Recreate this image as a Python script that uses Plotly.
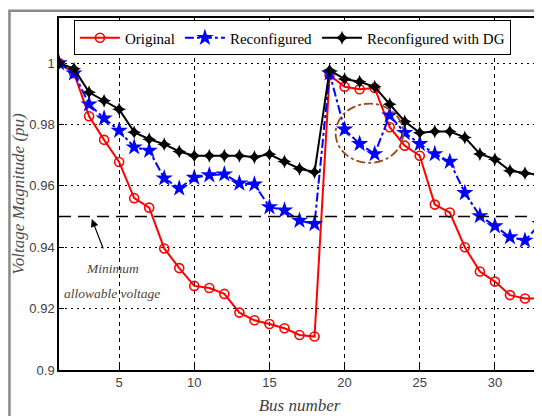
import plotly.graph_objects as go

bus = list(range(1, 34))

original = [1.0, 0.9967, 0.9827, 0.975, 0.9678, 0.956, 0.9529, 0.9396, 0.9332, 0.9274,
            0.9267, 0.9248, 0.9187, 0.9162, 0.915, 0.9136, 0.9114, 0.9109,
            0.9961, 0.9923, 0.9915, 0.9919, 0.9791, 0.9731, 0.9698,
            0.9539, 0.9513, 0.94, 0.9321, 0.9288, 0.9244, 0.9233, 0.9233]

reconfigured = [1.0, 0.9967, 0.9866, 0.982, 0.978, 0.9726, 0.9715, 0.9625, 0.9592, 0.9627,
                0.9635, 0.9638, 0.9608, 0.9605, 0.9531, 0.952, 0.9487, 0.9476,
                0.9967, 0.9784, 0.9737, 0.9704, 0.983, 0.9773, 0.9737,
                0.9704, 0.9679, 0.9577, 0.9502, 0.9469, 0.9433, 0.9422, 0.9476]

reconfigured_dg = [1.0, 0.9982, 0.9905, 0.9877, 0.985, 0.9775, 0.9752, 0.9736, 0.9712, 0.9698,
                   0.9698, 0.9698, 0.9698, 0.9694, 0.9703, 0.9679, 0.9656, 0.9645,
                   0.9977, 0.9948, 0.9939, 0.9923, 0.9866, 0.981, 0.9773,
                   0.9777, 0.9777, 0.9758, 0.9704, 0.9687, 0.9649, 0.9641, 0.9635]

min_voltage = 0.95
x_ticks = [5, 10, 15, 20, 25, 30]
y_ticks = [0.9, 0.92, 0.94, 0.96, 0.98, 1.0]
y_tick_labels = ["0.9", "0.92", "0.94", "0.96", "0.98", "1"]
ellipse_x = [19.4, 23.9]
ellipse_y = [0.9675, 0.9868]

SERIF = "Liberation Serif"
SANS = "Liberation Sans"

fig = go.Figure()
fig.add_trace(go.Scatter(
    x=bus, y=original, name="Original", mode="lines+markers",
    line=dict(color="#ff0000", width=2),
    marker=dict(symbol="circle-open", size=9, color="#ff0000", line=dict(width=1.6)),
))
fig.add_trace(go.Scatter(
    x=bus, y=reconfigured, name="Reconfigured", mode="lines+markers",
    line=dict(color="#0000ff", width=2, dash="dashdot"),
    marker=dict(symbol="star", size=13, color="#0000ff"),
))
fig.add_trace(go.Scatter(
    x=bus, y=reconfigured_dg, name="Reconfigured with DG", mode="lines+markers",
    line=dict(color="#000000", width=2),
    marker=dict(symbol="star-diamond", size=10, color="#000000"),
))

# minimum allowable voltage line
fig.add_shape(type="line", xref="paper", yref="y", x0=0, x1=1, y0=min_voltage, y1=min_voltage,
              line=dict(color="#000000", width=1.6, dash="12px,7px"))
# highlight ellipse
fig.add_shape(type="circle", xref="x", yref="y",
              x0=ellipse_x[0], x1=ellipse_x[1], y0=ellipse_y[0], y1=ellipse_y[1],
              line=dict(color="#9a4a1c", width=1.8, dash="dashdot"))
# outer gray frame
fig.add_shape(type="rect", xref="paper", yref="paper", x0=-0.103, x1=1.2, y0=-0.3, y1=1.0205,
              line=dict(color="#8a8a8a", width=2.5), layer="below")

fig.add_annotation(x=3.18, y=0.9492, ax=12, ay=31, text="", showarrow=True,
                   arrowhead=2, arrowsize=1.3, arrowwidth=1.2, arrowcolor="#000000")
fig.add_annotation(x=4.53, y=0.9332, text="<i>Minimum</i>", showarrow=False,
                   font=dict(family=SERIF, size=13.5, color="#4b4636"))
fig.add_annotation(x=4.53, y=0.925, text="<i>allowable voltage</i>", showarrow=False,
                   font=dict(family=SERIF, size=13.5, color="#4b4636"))

fig.update_layout(
    width=534, height=408,
    margin=dict(l=51, r=2, t=10, b=46),
    paper_bgcolor="white", plot_bgcolor="white",
    showlegend=True,
    legend=dict(orientation="h", x=0.031, y=0.993, xanchor="left", yanchor="top",
                bgcolor="white", bordercolor="#000000", borderwidth=1,
                font=dict(family=SERIF, size=15, color="#000000"),
                itemwidth=40, tracegroupgap=0),
    xaxis=dict(range=[1, 33], tickvals=x_ticks, showgrid=True, automargin=False,
               gridcolor="#000000", griddash="4px,4px", gridwidth=1,
               showline=True, linecolor="#000000", linewidth=1.5, mirror="ticks",
               ticks="inside", ticklen=5, tickcolor="#000000", zeroline=False,
               tickfont=dict(family=SANS, size=13, color="#404040"),
               title=dict(text="<i>Bus number</i>", standoff=10,
                          font=dict(family=SERIF, size=17, color="#404040"))),
    yaxis=dict(range=[0.9, 1.0147], tickvals=y_ticks, ticktext=y_tick_labels, showgrid=True,
               automargin=False,
               gridcolor="#000000", griddash="2px,4px", gridwidth=1,
               showline=True, linecolor="#000000", linewidth=1.5, mirror="ticks",
               ticks="inside", ticklen=5, tickcolor="#000000", zeroline=False,
               tickfont=dict(family=SANS, size=13, color="#404040"),
               title=dict(text="<i>Voltage Magnitude (pu)</i>", standoff=0,
                          font=dict(family=SERIF, size=17, color="#505050"))),
)

fig.write_html("out.html")
